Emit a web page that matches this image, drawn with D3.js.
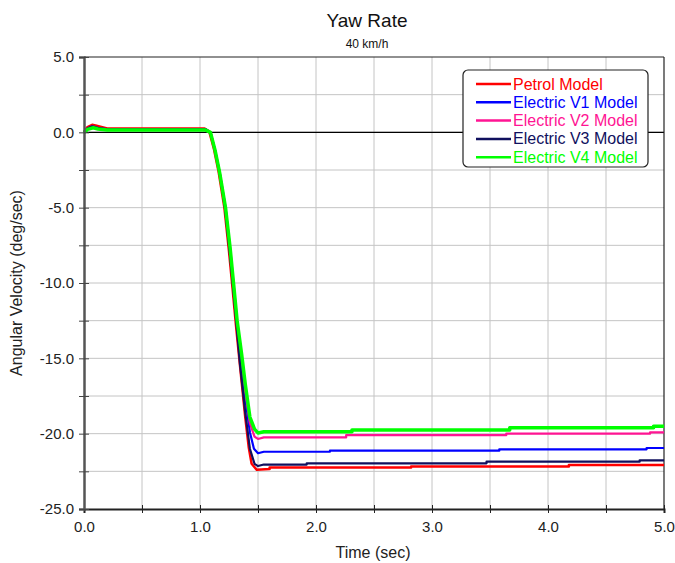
<!DOCTYPE html>
<html>
<head>
<meta charset="utf-8">
<script src="https://cdn.jsdelivr.net/npm/d3@7"></script>
<style>
  body { margin: 0; background: #fff; }
  text { font-family: "Liberation Sans", Arial, sans-serif; }
</style>
</head>
<body>
<div id="chart"></div>
<script>
//***************** data *******************/
var petrol = [[0,0],[0.03,0.35],[0.07,0.5],[0.1,0.45],[0.15,0.35],[0.2,0.25],[1.04,0.25],[1.08,0.05],[1.12,-1.1],[1.16,-2.6],
  [1.21,-5.0],[1.25,-7.9],[1.28,-10.3],[1.31,-12.8],[1.345,-15.5],[1.39,-18.9],[1.42,-20.9],[1.445,-22.0],[1.49,-22.4],[1.6,-22.35],
  [1.6,-22.25],[2.82,-22.25],[2.82,-22.18],[4.18,-22.18],[4.18,-22.08],[5,-22.08]];

var electricV1 = [[0,0],[0.03,0.25],[0.07,0.4],[0.12,0.3],[0.2,0.2],[1.05,0.2],[1.09,0.0],[1.13,-1.2],[1.17,-2.7],[1.22,-5.0],
  [1.26,-7.8],[1.29,-10.2],[1.32,-12.6],[1.355,-15.1],[1.39,-17.6],[1.43,-19.9],[1.465,-21.0],[1.5,-21.3],[1.55,-21.2],
  [2.12,-21.2],[2.12,-21.13],[3.58,-21.13],[3.58,-21.04],[4.85,-21.04],[4.85,-20.95],[5,-20.95]];

var electricV2 = [[0,0],[0.03,0.25],[0.07,0.4],[0.12,0.3],[0.2,0.2],[1.05,0.2],[1.09,0.0],[1.13,-1.2],[1.17,-2.7],[1.22,-5.0],
  [1.26,-7.7],[1.29,-10.1],[1.32,-12.5],[1.36,-15.0],[1.39,-17.2],[1.43,-19.3],[1.47,-20.2],[1.5,-20.35],[1.55,-20.25],
  [2.26,-20.25],[2.26,-20.1],[3.64,-20.1],[3.64,-20.0],[4.88,-20.0],[4.88,-19.92],[5,-19.92]];

var electricV3 = [[0,0],[0.03,0.25],[0.07,0.4],[0.12,0.3],[0.2,0.2],[1.05,0.2],[1.09,0.0],[1.13,-1.2],[1.17,-2.7],[1.215,-5.0],
  [1.255,-7.9],[1.285,-10.3],[1.315,-12.8],[1.345,-15.4],[1.39,-18.6],[1.43,-21.0],[1.47,-22.0],[1.5,-22.15],[1.55,-22.05],
  [1.92,-22.05],[1.92,-21.97],[3.47,-21.97],[3.47,-21.86],[4.79,-21.86],[4.79,-21.77],[5,-21.77]];

var electricV4 = [[0,0],[0.03,0.2],[0.08,0.3],[0.12,0.22],[0.2,0.15],[1.05,0.15],[1.09,0.0],[1.13,-1.2],[1.17,-2.7],[1.22,-5.0],
  [1.26,-7.7],[1.29,-10.1],[1.32,-12.5],[1.36,-14.8],[1.39,-16.7],[1.43,-18.9],[1.47,-19.7],[1.5,-19.95],[1.55,-19.87],
  [2.31,-19.87],[2.31,-19.75],[3.67,-19.75],[3.67,-19.6],[4.91,-19.6],[4.91,-19.5],[5,-19.5]];

var seriesNames = ["Petrol Model", "Electric V1 Model", "Electric V2 Model", "Electric V3 Model", "Electric V4 Model"];
var seriesColors = ["#ff0000", "#0000ff", "#ff1493", "#10105e", "#00ff00"];
var seriesWidths = [2.5, 2.2, 2.2, 2.2, 3.5];
var seriesData = [petrol, electricV1, electricV2, electricV3, electricV4];

var xTicks = [0, 1, 2, 3, 4, 5];
var xMinor = [0, 0.5, 1, 1.5, 2, 2.5, 3, 3.5, 4, 4.5, 5];
var yTicks = [5, 0, -5, -10, -15, -20, -25];
var yMinor = [5, 2.5, 0, -2.5, -5, -7.5, -10, -12.5, -15, -17.5, -20, -22.5, -25];

//************* set dimensions ***************/
var W = 675, H = 563;
var margin = {left: 84, right: 11, top: 57, bottom: 54};
var width = W - margin.left - margin.right,
    height = H - margin.top - margin.bottom;

//************** setup svg  *****************/
var root = d3.select("#chart")
  .append("svg")
    .attr("width", W)
    .attr("height", H);

var svg = root.append("g")
    .attr("transform", "translate(" + margin.left + "," + margin.top + ")");

var x = d3.scaleLinear().domain([0, 5]).range([0, width]);
var y = d3.scaleLinear().domain([-25, 5]).range([height, 0]);

//***************** grid *******************/
svg.append("g").selectAll("line")
  .data(xMinor.slice(1, -1))
  .enter().append("line")
    .attr("x1", function(d) { return x(d); })
    .attr("x2", function(d) { return x(d); })
    .attr("y1", 0).attr("y2", height)
    .attr("stroke", "#c4c4c4").attr("stroke-width", 1);

svg.append("g").selectAll("line")
  .data(yMinor.slice(1, -1))
  .enter().append("line")
    .attr("y1", function(d) { return y(d); })
    .attr("y2", function(d) { return y(d); })
    .attr("x1", 0).attr("x2", width)
    .attr("stroke", "#c4c4c4").attr("stroke-width", 1);

// zero line
svg.append("line")
  .attr("x1", 0).attr("x2", width)
  .attr("y1", y(0)).attr("y2", y(0))
  .attr("stroke", "#000").attr("stroke-width", 1.2);

// frame top / right
svg.append("line").attr("x1", 0).attr("x2", width).attr("y1", 0).attr("y2", 0)
  .attr("stroke", "#222").attr("stroke-width", 1.2);
svg.append("line").attr("x1", width).attr("x2", width).attr("y1", 0).attr("y2", height)
  .attr("stroke", "#222").attr("stroke-width", 1.2);

//***************** lines *******************/
var line = d3.line()
  .x(function(d) { return x(d[0]); })
  .y(function(d) { return y(d[1]); });

seriesData.forEach(function(s, i) {
  svg.append("path")
    .datum(s)
    .attr("fill", "none")
    .attr("stroke", seriesColors[i])
    .attr("stroke-width", seriesWidths[i])
    .attr("stroke-linejoin", "round")
    .attr("d", line);
});

//***************** axes *******************/
var xAxis = svg.append("g")
  .attr("transform", "translate(0," + height + ")")
  .call(d3.axisBottom(x).tickValues(xMinor).tickSize(4)
    .tickFormat(function(d) { return xTicks.indexOf(d) >= 0 ? d.toFixed(1) : ""; }));
xAxis.select(".domain").attr("stroke", "#222").attr("stroke-width", 2);
xAxis.selectAll(".tick line").attr("y1", -4).attr("stroke", "#222");
xAxis.selectAll("text").attr("font-size", "15px").attr("fill", "#222").attr("dy", "1.05em");

var yAxis = svg.append("g")
  .call(d3.axisLeft(y).tickValues(yMinor).tickSize(5)
    .tickFormat(function(d) { return yTicks.indexOf(d) >= 0 ? d.toFixed(1) : ""; }));
yAxis.select(".domain").attr("stroke", "#555").attr("stroke-width", 2.5);
yAxis.selectAll(".tick line").attr("x1", -5).attr("x2", 5).attr("stroke", "#444");
yAxis.selectAll("text").attr("font-size", "15px").attr("fill", "#222").attr("x", -10);

//add labels
root.append("text")
  .attr("x", margin.left + width / 2 - 1)
  .attr("y", 558)
  .attr("text-anchor", "middle")
  .attr("font-size", "16px")
  .attr("fill", "#222")
  .text("Time (sec)");

root.append("text")
  .attr("transform", "translate(22," + (margin.top + height / 2) + ") rotate(-90)")
  .attr("text-anchor", "middle")
  .attr("font-size", "16px")
  .attr("fill", "#222")
  .text("Angular Velocity (deg/sec)");

//***************** title *******************/
root.append("text")
  .attr("x", 367).attr("y", 27)
  .attr("text-anchor", "middle")
  .attr("font-size", "19px")
  .attr("fill", "#111")
  .text("Yaw Rate");

root.append("text")
  .attr("x", 367).attr("y", 48)
  .attr("text-anchor", "middle")
  .attr("font-size", "12px")
  .attr("fill", "#111")
  .text("40 km/h");

//***************** legend *******************/
var legend = root.append("g").attr("transform", "translate(463,70)");
legend.append("rect")
  .attr("width", 185).attr("height", 97)
  .attr("rx", 5).attr("ry", 5)
  .attr("fill", "#fff").attr("stroke", "#222").attr("stroke-width", 1.2);

seriesNames.forEach(function(name, i) {
  var row = legend.append("g").attr("transform", "translate(0," + (14 + i * 18.3) + ")");
  row.append("line")
    .attr("x1", 13).attr("x2", 48)
    .attr("stroke", seriesColors[i]).attr("stroke-width", 2.5);
  row.append("text")
    .attr("x", 50).attr("y", 5.5)
    .attr("font-size", "16px")
    .attr("fill", seriesColors[i])
    .text(name);
});
</script>
</body>
</html>
